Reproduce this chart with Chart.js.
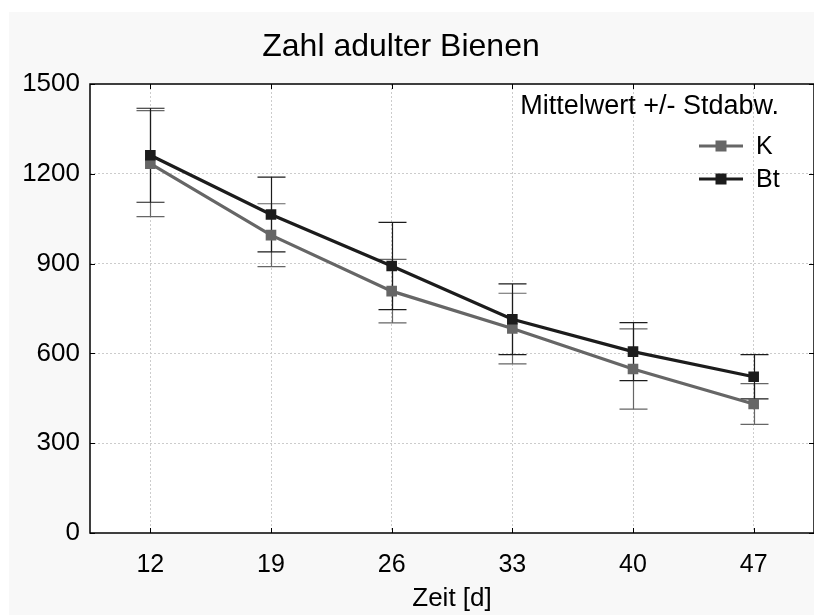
<!DOCTYPE html>
<html>
<head>
<meta charset="utf-8">
<title>Zahl adulter Bienen</title>
<script src="https://cdn.jsdelivr.net/npm/chart.js@4"></script>
<style>
  html, body { margin: 0; padding: 0; background: #ffffff; overflow: hidden; }
  #bienenChart { display: block; }
</style>
</head>
<body>
<canvas id="bienenChart" width="814" height="615"></canvas>
<script>
// Sampling days and group means / standard deviations
const days = ['12', '19', '26', '33', '40', '47'];
const kMean = [1234, 995, 808, 683, 548, 431];
const kSd = [177, 105, 106, 118, 134, 68];
const btMean = [1262, 1064, 892, 714, 606, 522];
const btSd = [157, 125, 146, 118, 97, 74];
const yMin = 0;
const yMax = 1500;
const yStep = 300;

const FONT = "'Liberation Sans', Arial, sans-serif";
const K_COLOR = '#666666';
const BT_COLOR = '#1c1c1c';

// Grey page background with a white plot area, plus the chart title
const backdrop = {
    id: 'backdrop',
    beforeDraw(chart) {
        const { ctx, chartArea: a } = chart;
        ctx.save();
        ctx.fillStyle = '#ffffff';
        ctx.fillRect(0, 0, chart.width, chart.height);
        ctx.fillStyle = '#f8f8f8';
        ctx.fillRect(9, 12, chart.width - 9, chart.height - 12);
        ctx.fillStyle = '#ffffff';
        ctx.fillRect(a.left, a.top, a.right - a.left, a.bottom - a.top);

        ctx.fillStyle = '#000000';
        ctx.font = '32px ' + FONT;
        ctx.textAlign = 'center';
        ctx.textBaseline = 'middle';
        ctx.fillText('Zahl adulter Bienen', 401, 47);
        ctx.restore();
    }
};

// Error bars (mean +/- sd), plot frame and inward tick marks
const errorBars = {
    id: 'errorBars',
    beforeDatasetsDraw(chart) {
        const { ctx, chartArea: a } = chart;
        const xs = chart.scales.x;
        const ys = chart.scales.y;
        ctx.save();

        // frame
        ctx.strokeStyle = '#000000';
        ctx.lineWidth = 1.5;
        ctx.strokeRect(a.left, a.top, a.right - a.left, a.bottom - a.top);
        ctx.lineWidth = 1;
        ctx.beginPath();
        xs.ticks.forEach((t, i) => {
            const x = Math.round(xs.getPixelForTick(i)) + 0.5;
            ctx.moveTo(x, a.bottom); ctx.lineTo(x, a.bottom - 5);
            ctx.moveTo(x, a.top); ctx.lineTo(x, a.top + 5);
        });
        ys.ticks.forEach((t, i) => {
            const y = Math.round(ys.getPixelForTick(i)) + 0.5;
            ctx.moveTo(a.left, y); ctx.lineTo(a.left + 5, y);
            ctx.moveTo(a.right, y); ctx.lineTo(a.right - 5, y);
        });
        ctx.stroke();

        // error bars, K first so Bt sits on top
        const groups = [
            { mean: kMean, sd: kSd, color: K_COLOR },
            { mean: btMean, sd: btSd, color: BT_COLOR }
        ];
        groups.forEach(g => {
            ctx.strokeStyle = g.color;
            ctx.lineWidth = 1.2;
            ctx.beginPath();
            g.mean.forEach((m, i) => {
                const x = Math.round(xs.getPixelForValue(i)) + 0.5;
                const hi = ys.getPixelForValue(m + g.sd[i]);
                const lo = ys.getPixelForValue(m - g.sd[i]);
                ctx.moveTo(x, hi); ctx.lineTo(x, lo);
                ctx.moveTo(x - 14, hi); ctx.lineTo(x + 14, hi);
                ctx.moveTo(x - 14, lo); ctx.lineTo(x + 14, lo);
            });
            ctx.stroke();
        });
        ctx.restore();
    }
};

// Legend block inside the plot, top right
const insideLegend = {
    id: 'insideLegend',
    afterDraw(chart) {
        const { ctx, chartArea: a } = chart;
        ctx.save();
        ctx.fillStyle = '#000000';
        ctx.font = '27px ' + FONT;
        ctx.textBaseline = 'middle';
        ctx.textAlign = 'right';
        ctx.fillText('Mittelwert +/- Stdabw.', a.right - 35, a.top + 23);

        ctx.font = '25px ' + FONT;
        const items = [chart.data.datasets[1], chart.data.datasets[0]];
        items.forEach((ds, i) => {
            const y = a.top + 62 + i * 33;
            const x0 = a.right - 115;
            ctx.strokeStyle = ds.borderColor;
            ctx.lineWidth = 3.2;
            ctx.beginPath();
            ctx.moveTo(x0, y); ctx.lineTo(x0 + 44, y);
            ctx.stroke();
            ctx.fillStyle = ds.borderColor;
            ctx.fillRect(x0 + 22 - 5.5, y - 5.5, 11, 11);
            ctx.fillStyle = '#000000';
            ctx.textAlign = 'left';
            ctx.fillText(ds.label, x0 + 57, y + 1);
        });
        ctx.restore();
    }
};

const ctx = document.getElementById('bienenChart').getContext('2d');
new Chart(ctx, {
    type: 'line',
    data: {
        labels: days,
        datasets: [
            {
                label: 'Bt',
                data: btMean,
                borderColor: BT_COLOR,
                backgroundColor: BT_COLOR,
                borderWidth: 3.2,
                pointStyle: 'rect',
                pointRadius: 7.5,
                pointBorderWidth: 0,
                tension: 0,
                order: 1
            },
            {
                label: 'K',
                data: kMean,
                borderColor: K_COLOR,
                backgroundColor: K_COLOR,
                borderWidth: 3.2,
                pointStyle: 'rect',
                pointRadius: 7.5,
                pointBorderWidth: 0,
                tension: 0,
                order: 2
            }
        ]
    },
    options: {
        responsive: false,
        animation: false,
        layout: { autoPadding: false, padding: { left: 9, top: 84, right: 0, bottom: 0 } },
        plugins: {
            legend: { display: false },
            tooltip: { enabled: false },
            title: { display: false }
        },
        scales: {
            x: {
                offset: true,
                grid: { color: '#cccccc', drawTicks: false, offset: false },
                border: { display: false, dash: [2, 2] },
                ticks: { color: '#000000', padding: 17, font: { family: FONT, size: 25 } },
                title: {
                    display: true,
                    text: 'Zeit [d]',
                    color: '#000000',
                    font: { family: FONT, size: 26, lineHeight: 1.2 },
                    padding: { top: 0, bottom: 1 }
                },
                afterFit(scale) {
                    scale.height = 82;
                    scale.paddingLeft = 0;
                    scale.paddingRight = 0;
                }
            },
            y: {
                min: yMin,
                max: yMax,
                grid: {
                    color: ctx => (ctx.tick && (ctx.tick.value === yMin || ctx.tick.value === yMax)) ? 'rgba(0,0,0,0)' : '#cccccc',
                    drawTicks: false
                },
                border: { display: false, dash: [2, 2] },
                ticks: {
                    stepSize: yStep,
                    color: '#000000',
                    padding: 10,
                    font: { family: FONT, size: 26 },
                    callback: v => String(v)
                },
                afterFit(scale) {
                    scale.width = 81;
                    scale.paddingTop = 0;
                    scale.paddingBottom = 0;
                }
            }
        }
    },
    plugins: [backdrop, errorBars, insideLegend]
});
</script>
</body>
</html>
